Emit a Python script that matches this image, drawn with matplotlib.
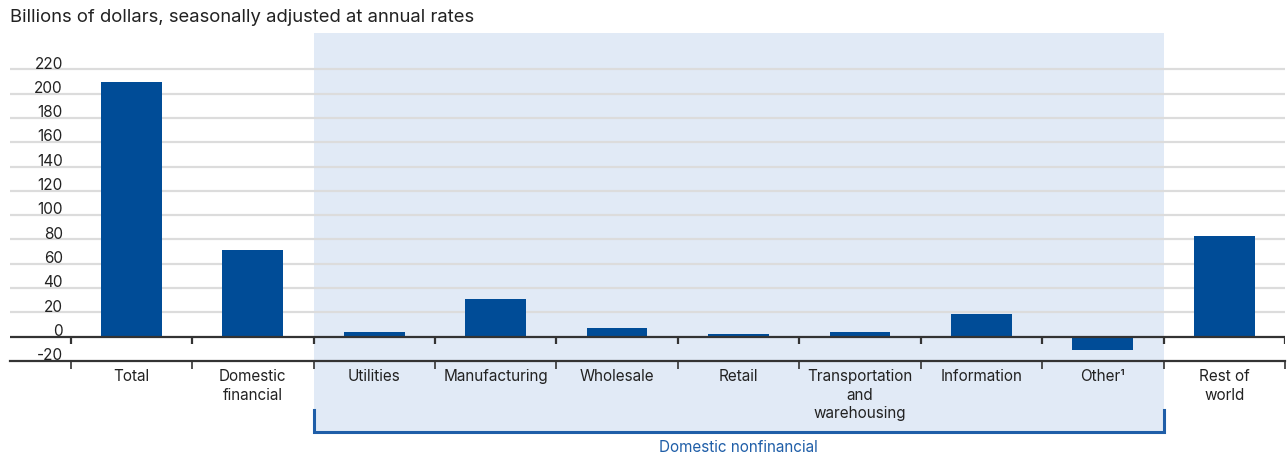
import numpy as np
import matplotlib.pyplot as plt
from matplotlib.patches import Rectangle
from matplotlib.lines import Line2D

plt.rcParams['font.family'] = ['Inter', 'DejaVu Sans']

# Corporate profits by industry
categories = ["Total", "Domestic\nfinancial", "Utilities", "Manufacturing", "Wholesale",
              "Retail", "Transportation\nand\nwarehousing", "Information", "Other¹",
              "Rest of\nworld"]
values = [209.3, 71.5, 3.9, 31.0, 7.1, 2.2, 3.9, 18.6, -10.9, 82.5]
yticks = [-20, 0, 20, 40, 60, 80, 100, 120, 140, 160, 180, 200, 220]
group_label = "Domestic nonfinancial"
group_span = (2, 8)  # first and last index of the nonfinancial group

BAR = "#004c97"
SHADE = "#e1eaf6"
GRID = "#dcdcdc"
INK = "#222222"
GROUP_BLUE = "#1f5ea8"

fig = plt.figure(figsize=(12.88, 4.57), dpi=100)
ax = fig.add_axes([10 / 1288, 96 / 457, 1275 / 1288, (361 - 32.8) / 457])

x = np.arange(len(categories))
ax.set_xlim(-1.0, len(categories) - 0.5)
ax.set_ylim(-20, 250)

# shaded block behind the nonfinancial industries, running down past the axis
lo, hi = group_span[0] - 0.5, group_span[1] + 0.5
ax.add_patch(Rectangle((lo, -78.5), hi - lo, 250 + 78.5, facecolor=SHADE,
                       edgecolor="none", clip_on=False, zorder=0))

# horizontal grid
for t in yticks[2:]:
    ax.axhline(t, color=GRID, lw=1.6, zorder=1)
ax.axhline(0, color="#333333", lw=1.6, zorder=3)

ax.bar(x, values, width=0.5, color=BAR, zorder=2)

# y labels sit just above their grid line
for t in yticks:
    ax.text(-0.565, t + 0.6, f"{t}", ha="right", va="baseline", fontsize=11,
            color=INK, zorder=4)

# boundary ticks under the zero line
bounds = np.arange(-0.5, len(categories), 1.0)
ax.vlines(bounds, -5.8, 0, color="#333333", lw=1.6, zorder=3)

ax.set_xticks(bounds)
ax.set_xticklabels([])
ax.tick_params(axis="x", length=5.5, width=1.2, color="#333333", direction="out")
ax.set_yticks([])
for side in ["top", "left", "right"]:
    ax.spines[side].set_visible(False)
ax.spines["bottom"].set_color("#333333")
ax.spines["bottom"].set_linewidth(1.6)

for xi, lab in zip(x, categories):
    ax.text(xi, -26.5, lab, ha="center", va="top", fontsize=11, color=INK,
            linespacing=1.3)

# bracket for the group
bx = [lo, lo, hi, hi]
by = [-60.5, -78.5, -78.5, -60.5]
ax.add_line(Line2D(bx, by, color=GROUP_BLUE, lw=2.2, clip_on=False, zorder=3,
                   solid_joinstyle="miter"))
ax.text((lo + hi) / 2, -91, group_label, ha="center", va="center", fontsize=11,
        color=GROUP_BLUE)

fig.text(10 / 1288, 1 - 18 / 457, "Billions of dollars, seasonally adjusted at annual rates",
         ha="left", va="center", fontsize=13.3, color=INK)

fig.savefig("out.png", dpi=100)
